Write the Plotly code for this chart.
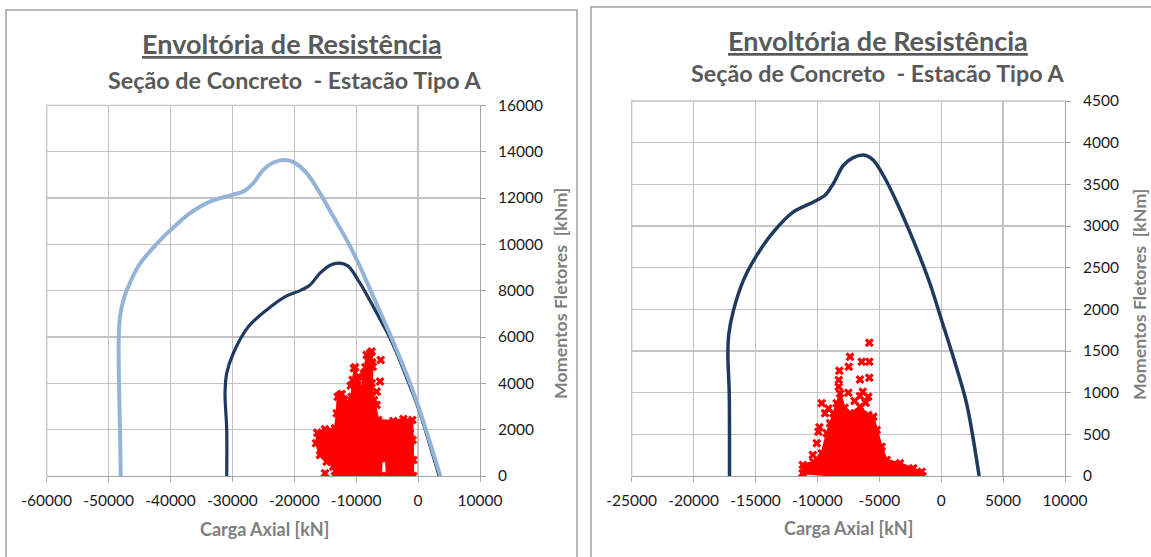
import plotly.graph_objects as go

# ---------------- Left chart data ----------------
L_X_TICKS = [-60000, -50000, -40000, -30000, -20000, -10000, 0, 10000]
L_Y_TICKS = [0, 2000, 4000, 6000, 8000, 10000, 12000, 14000, 16000]

# outer envelope (light blue)
L_OUT_N = [-48040, -48160, -48320, -48370, -48160, -47700, -47080, -45100, -42230, -39970, -36850,
           -33620, -30020, -28240, -26620, -25010, -23390, -21500, -20050, -18000, -15850,
           -13700, -11535, -9386, -7240, -5070, -3457, -1500, 0, 1800, 3600]
L_OUT_M = [0, 2017, 4004, 5875, 6880, 7500, 8004, 9100, 10022, 10626, 11348,
           11849, 12138, 12281, 12644, 13218, 13534, 13640, 13540, 13076, 12212,
           11200, 10194, 9041, 7745, 6449, 5443, 4150, 3050, 1550, 0]

# inner envelope (dark blue)
L_IN_N = [-30920, -30920, -31190, -30920, -29850, -27400, -24460, -21230, -19080, -17460,
          -15850, -14200, -12800, -11300, -9386, -7240, -5070, -3600, -1800, 0, 3400]
L_IN_M = [0, 2017, 3572, 4436, 5300, 6450, 7171, 7775, 8004, 8250,
          8756, 9100, 9190, 9060, 8324, 7313, 6233, 5400, 4200, 2950, 0]

# solicitations cloud outline (red)
L_CLOUD_N = [-13425, -13700, -14770, -15850, -16490, -16280, -15040, -13425, -13150, -12990,
             -12340, -11535, -10730, -10565, -10190, -9820, -9110, -8740, -8300, -7500,
             -7335, -7500, -7125, -6430, -4005, -2390, -935, -870, -775, -775,
             -5070, -5185, -5880, -5990, -13425]
L_CLOUD_M = [0, 402, 618, 907, 1411, 1872, 2017, 2060, 2708, 3426,
             3542, 3140, 3426, 4147, 4696, 4147, 3789, 4437, 5227, 5370,
             4722, 4005, 3283, 2419, 2376, 2462, 2419, 1555, 691, 0,
             0, 763, 835, 0, 0]
L_PTS_N = [-15040, -7770, -6040, -6155, -6690, -6690, -10355, -12620, -1310, -1310, -1310, -1310,
           -7400, -10900, -11900, -8500, -9600]
L_PTS_M = [115, 5300, 5011, 4076, 3642, 3067, 4653, 3499, 1845, 1266, 691, 259,
           4900, 3900, 3300, 4700, 4300]

# ---------------- Right chart data ----------------
R_X_TICKS = [-25000, -20000, -15000, -10000, -5000, 0, 5000, 10000]
R_Y_TICKS = [0, 500, 1000, 1500, 2000, 2500, 3000, 3500, 4000, 4500]

R_ENV_N = [-17100, -17100, -17120, -17230, -17150, -16775, -15970, -14890, -13550, -11940,
           -10320, -9380, -8710, -7900, -7100, -6155, -5480, -4680, -3600, -2260,
           -910, 30, 970, 2050, 3065]
R_ENV_M = [0, 512, 991, 1471, 1711, 1990, 2350, 2650, 2929, 3169,
           3289, 3369, 3510, 3729, 3821, 3849, 3789, 3609, 3289, 2830,
           2310, 1870, 1430, 872, 0]

R_CLOUD_N = [-11180, -11180, -10320, -9650, -9240, -8975, -8710, -8440, -8170, -7800,
             -7365, -6560, -5890, -5480, -5210, -4810, -4400, -3330, -2260, -1580,
             -1500, -8440, -11180]
R_CLOUD_M = [32, 132, 171, 272, 512, 632, 752, 872, 991, 820,
             752, 831, 731, 711, 552, 352, 192, 152, 92, 52,
             0, 0, 32]
R_PTS_N = [-5805, -7365, -6420, -5805, -8225, -7470, -8275, -8275, -6560, -5805,
           -6340, -7500, -6560, -5890, -9650, -9110, -9380, -9840, -9920, -10050,
           -10370, -7000, -6100]
R_PTS_M = [1598, 1431, 1371, 1371, 1263, 1311, 1151, 1071, 1159, 1179,
           1011, 999, 959, 951, 872, 811, 752, 584, 531, 392,
           252, 900, 880]

# ---------------- Styles ----------------
W, H = 1151, 557
FONT = "Lato"
LIGHT = "#95B3D7"
DARK = "#1F3A5F"
RED = "#FF0000"
GRID = "#C3C3C3"
AXIS = "#A6A6A6"
TITLE_C = "#595959"
AXT_C = "#7F7F7F"


def px(x):
    return x / W


def py(y):
    return 1 - y / H


fig = go.Figure()

# Left chart traces
fig.add_trace(go.Scatter(x=L_CLOUD_N, y=L_CLOUD_M, mode="lines+markers", fill="toself",
                         fillcolor=RED, line=dict(color=RED, width=2),
                         marker=dict(symbol="x", size=8, color=RED, line=dict(width=0)),
                         xaxis="x", yaxis="y", hoverinfo="skip"))
fig.add_trace(go.Scatter(x=L_PTS_N, y=L_PTS_M, mode="markers",
                         marker=dict(symbol="x", size=8, color=RED, line=dict(width=0)),
                         xaxis="x", yaxis="y"))
fig.add_trace(go.Scatter(x=L_IN_N, y=L_IN_M, mode="lines", line=dict(color=DARK, width=3.2, shape="spline", smoothing=0.9),
                         xaxis="x", yaxis="y"))
fig.add_trace(go.Scatter(x=L_OUT_N, y=L_OUT_M, mode="lines", line=dict(color=LIGHT, width=4, shape="spline", smoothing=0.9),
                         xaxis="x", yaxis="y"))

# Right chart traces
fig.add_trace(go.Scatter(x=R_CLOUD_N, y=R_CLOUD_M, mode="lines+markers", fill="toself",
                         fillcolor=RED, line=dict(color=RED, width=2),
                         marker=dict(symbol="x", size=8, color=RED, line=dict(width=0)),
                         xaxis="x2", yaxis="y2", hoverinfo="skip"))
fig.add_trace(go.Scatter(x=R_PTS_N, y=R_PTS_M, mode="markers",
                         marker=dict(symbol="x", size=8, color=RED, line=dict(width=0)),
                         xaxis="x2", yaxis="y2"))
fig.add_trace(go.Scatter(x=R_ENV_N, y=R_ENV_M, mode="lines", line=dict(color=DARK, width=3.5, shape="spline", smoothing=0.9),
                         xaxis="x2", yaxis="y2"))

tickfont = dict(family=FONT, size=15.5, color="#1a1a1a")


def xaxis(domain, rng, ticks, anchor):
    return dict(domain=domain, range=rng, tickvals=ticks, ticktext=[str(t) for t in ticks],
                anchor=anchor, automargin=False,
                showgrid=True, gridcolor=GRID, gridwidth=1.3, zeroline=False,
                showline=True, linecolor=AXIS, linewidth=1, ticks="outside", ticklen=5,
                tickcolor=AXIS, tickfont=tickfont, ticklabelstandoff=5, fixedrange=True)


def yaxis(domain, rng, ticks, anchor):
    return dict(domain=domain, range=rng, tickvals=ticks, ticktext=[str(t) for t in ticks],
                side="right", anchor=anchor, automargin=False,
                showgrid=True, gridcolor=GRID, gridwidth=1.3, zeroline=False,
                showline=True, linecolor=AXIS, linewidth=1, ticks="outside", ticklen=5,
                tickcolor=AXIS, tickfont=tickfont, ticklabelstandoff=9, fixedrange=True)


fig.update_layout(
    template="none",
    width=W, height=H, margin=dict(l=0, r=0, t=0, b=0, pad=0, autoexpand=False),
    paper_bgcolor="white", plot_bgcolor="white", showlegend=False,
    xaxis=xaxis([px(46.7), px(480)], [-60000, 10000], L_X_TICKS, "y"),
    yaxis=yaxis([py(476), py(105.4)], [0, 16000], L_Y_TICKS, "x"),
    xaxis2=xaxis([px(631.7), px(1065)], [-25000, 10000], R_X_TICKS, "y2"),
    yaxis2=yaxis([py(476), py(101)], [0, 4500], R_Y_TICKS, "x2"),
)

# Edge gridlines (left and top edges of each plot area)
for xr, yr in (("x domain", "y domain"), ("x2 domain", "y2 domain")):
    fig.add_shape(type="path", xref=xr, yref=yr, path="M 0 0 L 0 1 L 1 1",
                  line=dict(color=GRID, width=1.3), layer="below")

# Panel borders
fig.add_shape(type="path", xref="paper", yref="paper",
              path=f"M {px(6)} {py(570)} L {px(6)} {py(10)} L {px(577)} {py(10)} L {px(577)} {py(570)}",
              line=dict(color="#A0A0A0", width=1.5))
fig.add_shape(type="path", xref="paper", yref="paper",
              path=f"M {px(591)} {py(570)} L {px(591)} {py(7)} L {px(1160)} {py(7)}",
              line=dict(color="#A0A0A0", width=1.5))

NB = "\u00a0"
ann = [
    dict(x=px(292), y=py(43), text="<b><u>Envoltória de Resistência</u></b>", font=dict(family=FONT, size=27, color=TITLE_C)),
    dict(x=px(294), y=py(80), text=f"<b>Seção de Concreto {NB}- Estacão Tipo A</b>", font=dict(family=FONT, size=23.3, color=TITLE_C)),
    dict(x=px(878), y=py(40), text="<b><u>Envoltória de Resistência</u></b>", font=dict(family=FONT, size=27, color=TITLE_C)),
    dict(x=px(877), y=py(73), text=f"<b>Seção de Concreto {NB}- Estacão Tipo A</b>", font=dict(family=FONT, size=23.3, color=TITLE_C)),
    dict(x=px(264), y=py(529), text="<b>Carga Axial [kN]</b>", font=dict(family=FONT, size=18, color=AXT_C)),
    dict(x=px(848), y=py(528), text="<b>Carga Axial [kN]</b>", font=dict(family=FONT, size=18, color=AXT_C)),
    dict(x=px(560), y=py(294), text=f"<b>Momentos Fletores {NB}[kNm]</b>", textangle=-90, font=dict(family=FONT, size=17.8, color=AXT_C)),
    dict(x=px(1139), y=py(295), text=f"<b>Momentos Fletores {NB}[kNm]</b>", textangle=-90, font=dict(family=FONT, size=17.8, color=AXT_C)),
]
for a in ann:
    fig.add_annotation(xref="paper", yref="paper", showarrow=False, xanchor="center", yanchor="middle", **a)

fig.write_html("out.html", config={"displayModeBar": False, "staticPlot": True},
               post_script="document.body.style.margin='0px';document.body.style.overflow='hidden';")
